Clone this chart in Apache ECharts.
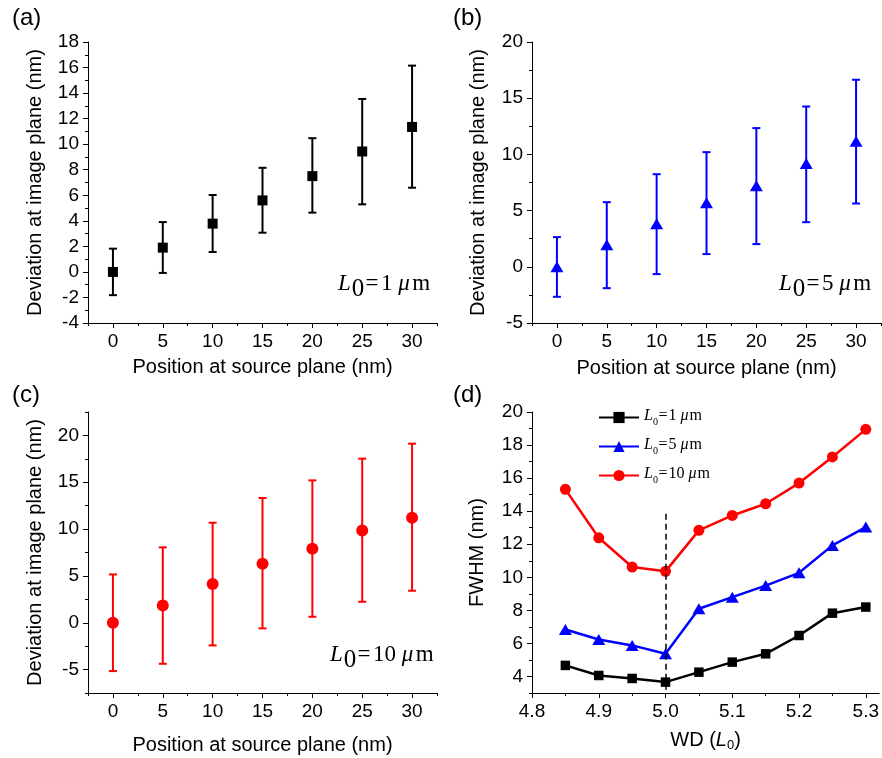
<!DOCTYPE html>
<html>
<head>
<meta charset="utf-8">
<script src="https://cdn.jsdelivr.net/npm/echarts@6/dist/echarts.min.js"></script>
<style>
html, body { margin: 0; padding: 0; background: #fff; }
#main { width: 882px; height: 758px; }
</style>
</head>
<body>
<div id="main"></div>
<script>
// position at source plane (nm), panels a-c
var positions = [0, 5, 10, 15, 20, 25, 30];

// (a) L0 = 1 um
var devA     = [0, 1.9, 3.78, 5.6, 7.5, 9.43, 11.35];
var devAHigh = [1.82, 3.9, 6.02, 8.15, 10.47, 13.54, 16.15];
var devALow  = [-1.82, -0.08, 1.56, 3.07, 4.64, 5.29, 6.59];

// (b) L0 = 5 um
var devB     = [0, 1.96, 3.83, 5.7, 7.2, 9.19, 11.18];
var devBHigh = [2.64, 5.75, 8.24, 10.2, 12.34, 14.26, 16.64];
var devBLow  = [-2.67, -1.9, -0.65, 1.13, 2.02, 3.97, 5.63];

// (c) L0 = 10 um
var devC     = [0, 1.85, 4.13, 6.3, 7.9, 9.86, 11.22];
var devCHigh = [5.16, 8.05, 10.68, 13.32, 15.2, 17.52, 19.12];
var devCLow  = [-5.16, -4.38, -2.42, -0.6, 0.64, 2.24, 3.42];

// (d) FWHM vs working distance
var wd       = [4.85, 4.9, 4.95, 5.0, 5.05, 5.1, 5.15, 5.2, 5.25, 5.3];
var fwhm1    = [4.67, 4.06, 3.88, 3.66, 4.26, 4.87, 5.37, 6.48, 7.83, 8.2];
var fwhm5    = [6.84, 6.24, 5.88, 5.37, 8.1, 8.8, 9.5, 10.27, 11.93, 13.04];
var fwhm10   = [15.32, 12.39, 10.62, 10.36, 12.84, 13.74, 14.45, 15.7, 17.28, 18.95];
var l0Values = ['1', '5', '10'];
var dashX = 5.0, dashTop = 13.85;

// tick values
var posTicks      = [0, 5, 10, 15, 20, 25, 30];
var posMinor      = [-2.5, 2.5, 7.5, 12.5, 17.5, 22.5, 27.5, 32.5];
var devATicks     = [-4, -2, 0, 2, 4, 6, 8, 10, 12, 14, 16, 18];
var devAMinor     = [-3, -1, 1, 3, 5, 7, 9, 11, 13, 15, 17];
var devBTicks     = [-5, 0, 5, 10, 15, 20];
var devBMinor     = [-2.5, 2.5, 7.5, 12.5, 17.5];
var devCTicks     = [-5, 0, 5, 10, 15, 20];
var devCMinor     = [-7.5, -2.5, 2.5, 7.5, 12.5, 17.5, 22.5];
var wdTicks       = [4.8, 4.9, 5.0, 5.1, 5.2, 5.3];
var wdMinor       = [4.85, 4.95, 5.05, 5.15, 5.25];
var fwhmTicks     = [4, 6, 8, 10, 12, 14, 16, 18, 20];
var fwhmMinor     = [3, 5, 7, 9, 11, 13, 15, 17, 19];

var FONT = '"Liberation Sans", Arial, Helvetica, sans-serif';
var SERIF = '"Liberation Serif", "Times New Roman", serif';

var chart = echarts.init(document.getElementById('main'));

function axisPair(dim, gi, min, max, majors, minors, name, gap, fmt) {
    var pos = dim === 'x' ? 'bottom' : 'left';
    var major = {
        type: 'value', gridIndex: gi, position: pos, min: min, max: max,
        name: name, nameLocation: 'middle', nameGap: gap,
        nameTextStyle: {fontFamily: FONT, fontSize: 20, color: '#000'},
        axisLine: {show: true, onZero: false, lineStyle: {color: '#000', width: 1}},
        axisTick: {show: true, length: 5, customValues: majors, lineStyle: {color: '#000'}},
        axisLabel: {customValues: majors, fontFamily: FONT, fontSize: 19, color: '#000', margin: 9,
                    formatter: fmt || function (v) { return String(v); }},
        splitLine: {show: false}
    };
    var minor = {
        type: 'value', gridIndex: gi, position: pos, min: min, max: max,
        axisLine: {show: false, onZero: false}, axisLabel: {show: false}, splitLine: {show: false},
        axisTick: {show: true, length: 3, customValues: minors, lineStyle: {color: '#000'}}
    };
    return [major, minor];
}

function errorBars(pi, low, high, color) {
    return {
        type: 'custom', xAxisIndex: pi * 2, yAxisIndex: pi * 2, silent: true, z: 1,
        data: positions.map(function (p, i) { return [p, low[i], high[i]]; }),
        encode: {x: 0, y: [1, 2]},
        renderItem: function (params, api) {
            var x = api.value(0);
            var lo = api.coord([x, api.value(1)]);
            var hi = api.coord([x, api.value(2)]);
            var st = {stroke: color, lineWidth: 2};
            var cap = 4;
            return {type: 'group', children: [
                {type: 'line', shape: {x1: lo[0], y1: lo[1], x2: hi[0], y2: hi[1]}, style: st},
                {type: 'line', shape: {x1: lo[0] - cap, y1: lo[1], x2: lo[0] + cap, y2: lo[1]}, style: st},
                {type: 'line', shape: {x1: hi[0] - cap, y1: hi[1], x2: hi[0] + cap, y2: hi[1]}, style: st}
            ]};
        }
    };
}

function points(pi, vals, color, symbol, size) {
    return {
        type: 'scatter', xAxisIndex: pi * 2, yAxisIndex: pi * 2, z: 3,
        symbol: symbol, symbolSize: size,
        itemStyle: {color: color, opacity: 1},
        data: positions.map(function (p, i) { return [p, vals[i]]; })
    };
}

function fwhmLine(name, vals, color, symbol, size, extra) {
    var s = {
        name: name, type: 'line', xAxisIndex: 6, yAxisIndex: 6,
        symbol: symbol, symbolSize: size, showSymbol: true,
        lineStyle: {color: color, width: 2.5},
        itemStyle: {color: color},
        data: wd.map(function (w, i) { return [w, vals[i]]; })
    };
    for (var k in extra) s[k] = extra[k];
    return s;
}

// L0 labels (italic L, subscript 0, italic mu)
function richSet(size, subSize, subDrop, padL, padE, padU) {
    var base = {fontFamily: SERIF, fontWeight: 'normal', color: '#000', verticalAlign: 'top'};
    function st(o) { var r = {}; for (var k in base) r[k] = base[k]; for (var j in o) r[j] = o[j]; return r; }
    return {
        i: st({fontStyle: 'italic', fontSize: size, padding: [0, padL, 0, 0]}),
        s: st({fontSize: subSize, padding: [subDrop, 0, 0, 0]}),
        e: st({fontSize: size, padding: [0, padE, 0, padE / 2]}),
        n: st({fontSize: size}),
        u: st({fontStyle: 'italic', fontSize: size, padding: [0, padU, 0, 0]})
    };
}
var bigRich = richSet(23, 25, 5, 1, 2.5, 2.5);
var smallRich = richSet(16, 10, 9, 0, 1, 1);
function l0Label(v) { return '{i|L}{s|0}{e|=}{n|' + v + ' }{u|\u03bc}{n|m}'; }

var seriesNames = l0Values.map(function (v) { return 'L0=' + v + ' \u03bcm'; });

function panelTitle(t, left, top) {
    return {text: t, left: left, top: top, padding: 0,
            textStyle: {fontFamily: FONT, fontSize: 24, fontWeight: 'normal', color: '#000'}};
}
function noteTitle(v, left, top) {
    return {text: l0Label(v), left: left, top: top, padding: 0,
            textStyle: {fontWeight: 'normal', rich: bigRich}};
}

var xAxes = [].concat(
    axisPair('x', 0, -2.5, 32.5, posTicks, posMinor, 'Position at source plane (nm)', 34),
    axisPair('x', 1, -2.5, 32.5, posTicks, posMinor, 'Position at source plane (nm)', 35),
    axisPair('x', 2, -2.5, 32.5, posTicks, posMinor, 'Position at source plane (nm)', 42),
    axisPair('x', 3, 4.8, 5.32, wdTicks, wdMinor, '{n|WD (}{i|L}{s|0}{n|)}', 37,
             function (v) { return v.toFixed(1); })
);
xAxes[6].nameTextStyle.rich = {
    n: {fontFamily: FONT, fontSize: 20, color: '#000', verticalAlign: 'top'},
    i: {fontFamily: FONT, fontStyle: 'italic', fontSize: 20, color: '#000', verticalAlign: 'top'},
    s: {fontFamily: FONT, fontSize: 13, color: '#000', verticalAlign: 'top', padding: [9, 0, 0, 0]}
};

var yAxes = [].concat(
    axisPair('y', 0, -4, 18, devATicks, devAMinor, 'Deviation at image plane (nm)', 43),
    axisPair('y', 1, -5, 20, devBTicks, devBMinor, 'Deviation at image plane (nm)', 44),
    axisPair('y', 2, -7.5, 22.5, devCTicks, devCMinor, 'Deviation at image plane (nm)', 43),
    axisPair('y', 3, 3, 20, fwhmTicks, fwhmMinor, 'FWHM (nm)', 45)
);

var option = {
    animation: false,
    backgroundColor: '#fff',
    title: [
        panelTitle('(a)', 12, 6), panelTitle('(b)', 453, 6),
        panelTitle('(c)', 12, 383), panelTitle('(d)', 453, 383),
        noteTitle(l0Values[0], 338, 272), noteTitle(l0Values[1], 779, 272),
        noteTitle(l0Values[2], 330, 643)
    ],
    grid: [
        {left: 88, top: 42, width: 349, height: 281},
        {left: 532, top: 42, width: 349, height: 281},
        {left: 88, top: 412, width: 349, height: 281},
        {left: 532, top: 412, width: 349, height: 281}
    ],
    legend: {
        orient: 'vertical', left: 598, top: 408, padding: 0,
        itemWidth: 40, itemHeight: 14, itemGap: 10,
        data: seriesNames,
        formatter: function (name) { return l0Label(l0Values[seriesNames.indexOf(name)]); },
        textStyle: {fontWeight: 'normal', rich: smallRich}
    },
    xAxis: xAxes,
    yAxis: yAxes,
    series: [
        errorBars(0, devALow, devAHigh, '#000'),
        points(0, devA, '#000', 'rect', 10),
        errorBars(1, devBLow, devBHigh, '#0000ff'),
        points(1, devB, '#0000ff', 'triangle', [13, 11]),
        errorBars(2, devCLow, devCHigh, '#ff0000'),
        points(2, devC, '#ff0000', 'circle', 12),
        fwhmLine(seriesNames[0], fwhm1, '#000', 'rect', 9.5, {
            markLine: {
                silent: true, symbol: ['none', 'none'], label: {show: false},
                lineStyle: {color: '#000', type: [6, 4], width: 1.5},
                data: [[{coord: [dashX, dashTop]}, {coord: [dashX, 3]}]]
            }
        }),
        fwhmLine(seriesNames[1], fwhm5, '#0000ff', 'triangle', [13, 11]),
        fwhmLine(seriesNames[2], fwhm10, '#ff0000', 'circle', 11)
    ]
};
chart.setOption(option);
</script>
</body>
</html>
